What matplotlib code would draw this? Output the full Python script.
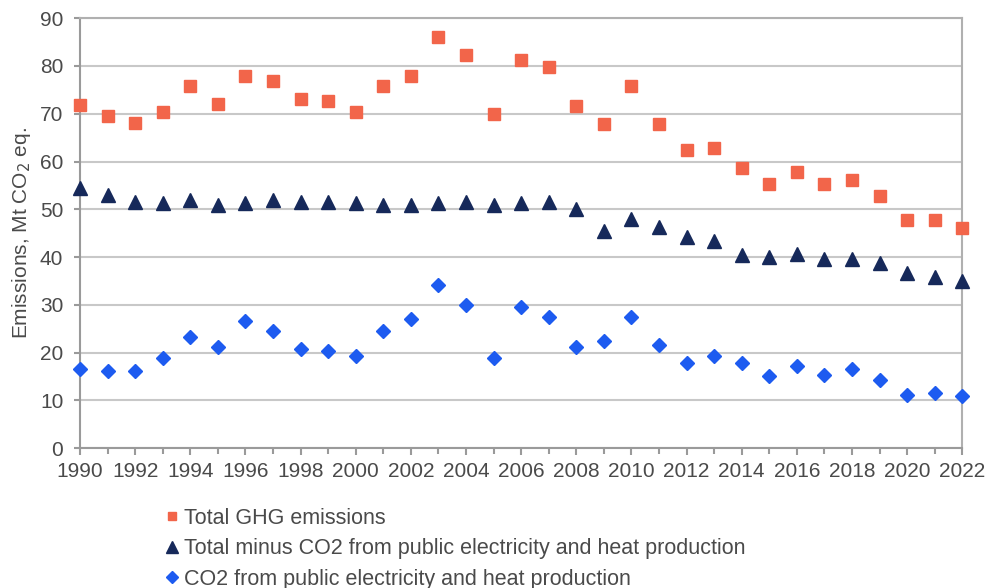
import matplotlib
matplotlib.use("Agg")
import matplotlib.pyplot as plt
from matplotlib.ticker import MultipleLocator

plt.rcParams['font.family'] = ['Liberation Sans', 'DejaVu Sans']

years = list(range(1990, 2023))
total_ghg = [71.8, 69.6, 68.0, 70.4, 75.9, 72.1, 78.0, 76.8, 73.0, 72.6, 70.4,
             75.9, 78.0, 86.0, 82.3, 70.0, 81.3, 79.7, 71.7, 67.9, 75.9, 67.9,
             62.4, 62.8, 58.7, 55.3, 57.7, 55.3, 56.1, 52.7, 47.7, 47.7, 46.0]
total_minus = [54.5, 53.0, 51.6, 51.3, 52.0, 50.9, 51.3, 52.0, 51.6, 51.6, 51.3,
               50.9, 50.9, 51.3, 51.6, 50.9, 51.3, 51.6, 50.0, 45.4, 48.0, 46.3,
               44.2, 43.4, 40.4, 40.0, 40.6, 39.6, 39.6, 38.8, 36.6, 35.8, 35.0]
co2_power = [16.6, 16.2, 16.2, 18.8, 23.3, 21.2, 26.6, 24.5, 20.8, 20.4, 19.2,
             24.5, 27.0, 34.2, 30.0, 18.8, 29.5, 27.5, 21.2, 22.4, 27.5, 21.6,
             17.9, 19.2, 17.9, 15.0, 17.1, 15.4, 16.6, 14.2, 11.2, 11.6, 10.9]
labels = ["Total GHG emissions",
          "Total minus CO2 from public electricity and heat production",
          "CO2 from public electricity and heat production"]

fig = plt.figure(figsize=(9.87, 5.88), dpi=100)
ax = fig.add_axes([0.081, 0.238, 0.894, 0.731])

ax.plot(years, total_ghg, linestyle='none', marker='s', markersize=8,
        color='#F2654A', label=labels[0], clip_on=False, zorder=3)
ax.plot(years, total_minus, linestyle='none', marker='^', markersize=10,
        color='#16295A', label=labels[1], clip_on=False, zorder=3)
ax.plot(years, co2_power, linestyle='none', marker='D', markersize=7.5,
        color='#1D5BF0', label=labels[2], clip_on=False, zorder=3)

ax.set_xlim(1990, 2022)
ax.set_ylim(0, 90)
ax.yaxis.set_major_locator(MultipleLocator(10))
ax.xaxis.set_major_locator(MultipleLocator(2))
ax.xaxis.set_minor_locator(MultipleLocator(1))
ax.grid(axis='y', color='#c8c8c8', linewidth=1.5, zorder=0)
ax.set_axisbelow(True)

for s in ['left', 'bottom']:
    ax.spines[s].set_color('#9a9a9a')
    ax.spines[s].set_linewidth(1.5)
for s in ['top', 'right']:
    ax.spines[s].set_color('#b0b0b0')
    ax.spines[s].set_linewidth(1.5)

ax.tick_params(axis='both', which='both', colors='#9a9a9a', labelcolor='#4a4a4a',
               labelsize=15, width=1.5)
ax.tick_params(axis='x', which='major', length=5, pad=5)
ax.tick_params(axis='x', which='minor', length=4)
ax.tick_params(axis='y', which='major', length=4, pad=8)

ax.set_ylabel('Emissions, Mt CO$_2$ eq.', fontsize=15, color='#4a4a4a', labelpad=5)

fig.legend(loc='upper left', bbox_to_anchor=(0.168, 0.136), frameon=False,
           fontsize=15.5, labelcolor='#4a4a4a', handlelength=0.6, handletextpad=0.25,
           labelspacing=0.43, borderpad=0, borderaxespad=0, markerscale=0.8)

fig.savefig('out.png', dpi=100)
